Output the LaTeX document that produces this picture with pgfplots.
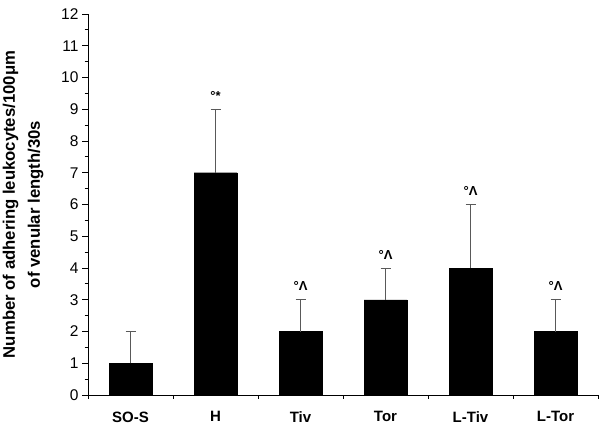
\documentclass[border=0pt]{standalone}
\usepackage{fontspec}
\setmainfont{Liberation Sans}
\usepackage{pgfplots}
\pgfplotsset{compat=1.18}
\begin{document}
\begin{tikzpicture}
\begin{axis}[
  scale only axis,
  width=510pt, height=381pt,
  xmin=0, xmax=6, ymin=0, ymax=12,
  axis lines=left,
  axis line style={-, line width=0.9pt},
  tick align=outside,
  tick style={black, line width=0.9pt},
  xtick={0.5,1.5,2.5,3.5,4.5,5.5},
  xticklabels={SO-S,H,Tiv,Tor,L-Tiv,L-Tor},
  xticklabel style={font=\fontsize{15}{18}\selectfont\bfseries, yshift=-7pt},
  major x tick style={draw=none},
  minor xtick={0,1,2,3,4,5,6},
  minor x tick style={black, line width=0.9pt},
  ytick={0,1,...,12},
  minor y tick num=1,
  major tick length=6pt,
  minor tick length=3.5pt,
  yticklabel style={font=\fontsize{15.5}{17}\selectfont},
  /pgf/number format/assume math mode=true,
  ylabel={Number of adhering leukocytes/100μm\\of venular length/30s},
  ylabel style={font=\fontsize{16.7}{25}\selectfont\bfseries, align=center, yshift=11pt},
  clip=false,
]
\addplot[ybar, bar width=43pt, fill=black, draw=black,
  error bars/.cd, y dir=plus, y explicit,
  error bar style={gray!70!black, line width=0.9pt},
  error mark options={rotate=90, mark size=5pt, gray!70!black, line width=0.9pt}]
  table[x=x, y=y, y error=e] {
x y e
0.5 1 1
1.5 7 2
2.5 2 1
3.5 3 1
4.5 4 2
5.5 2 1
};
\node[font=\fontsize{13}{14}\selectfont\bfseries] at (axis cs:1.5,9.42) {°*};
\node[font=\fontsize{13}{14}\selectfont\bfseries] at (axis cs:2.5,3.42) {°Λ};
\node[font=\fontsize{13}{14}\selectfont\bfseries] at (axis cs:3.5,4.42) {°Λ};
\node[font=\fontsize{13}{14}\selectfont\bfseries] at (axis cs:4.5,6.42) {°Λ};
\node[font=\fontsize{13}{14}\selectfont\bfseries] at (axis cs:5.5,3.42) {°Λ};
\coordinate (bl) at (rel axis cs:0,0);
\coordinate (tr) at (rel axis cs:1,1);
\end{axis}
\pgfresetboundingbox
\path ([shift={(-88pt,-33pt)}]bl) rectangle ([shift={(15pt,14pt)}]tr);
\end{tikzpicture}
\end{document}
